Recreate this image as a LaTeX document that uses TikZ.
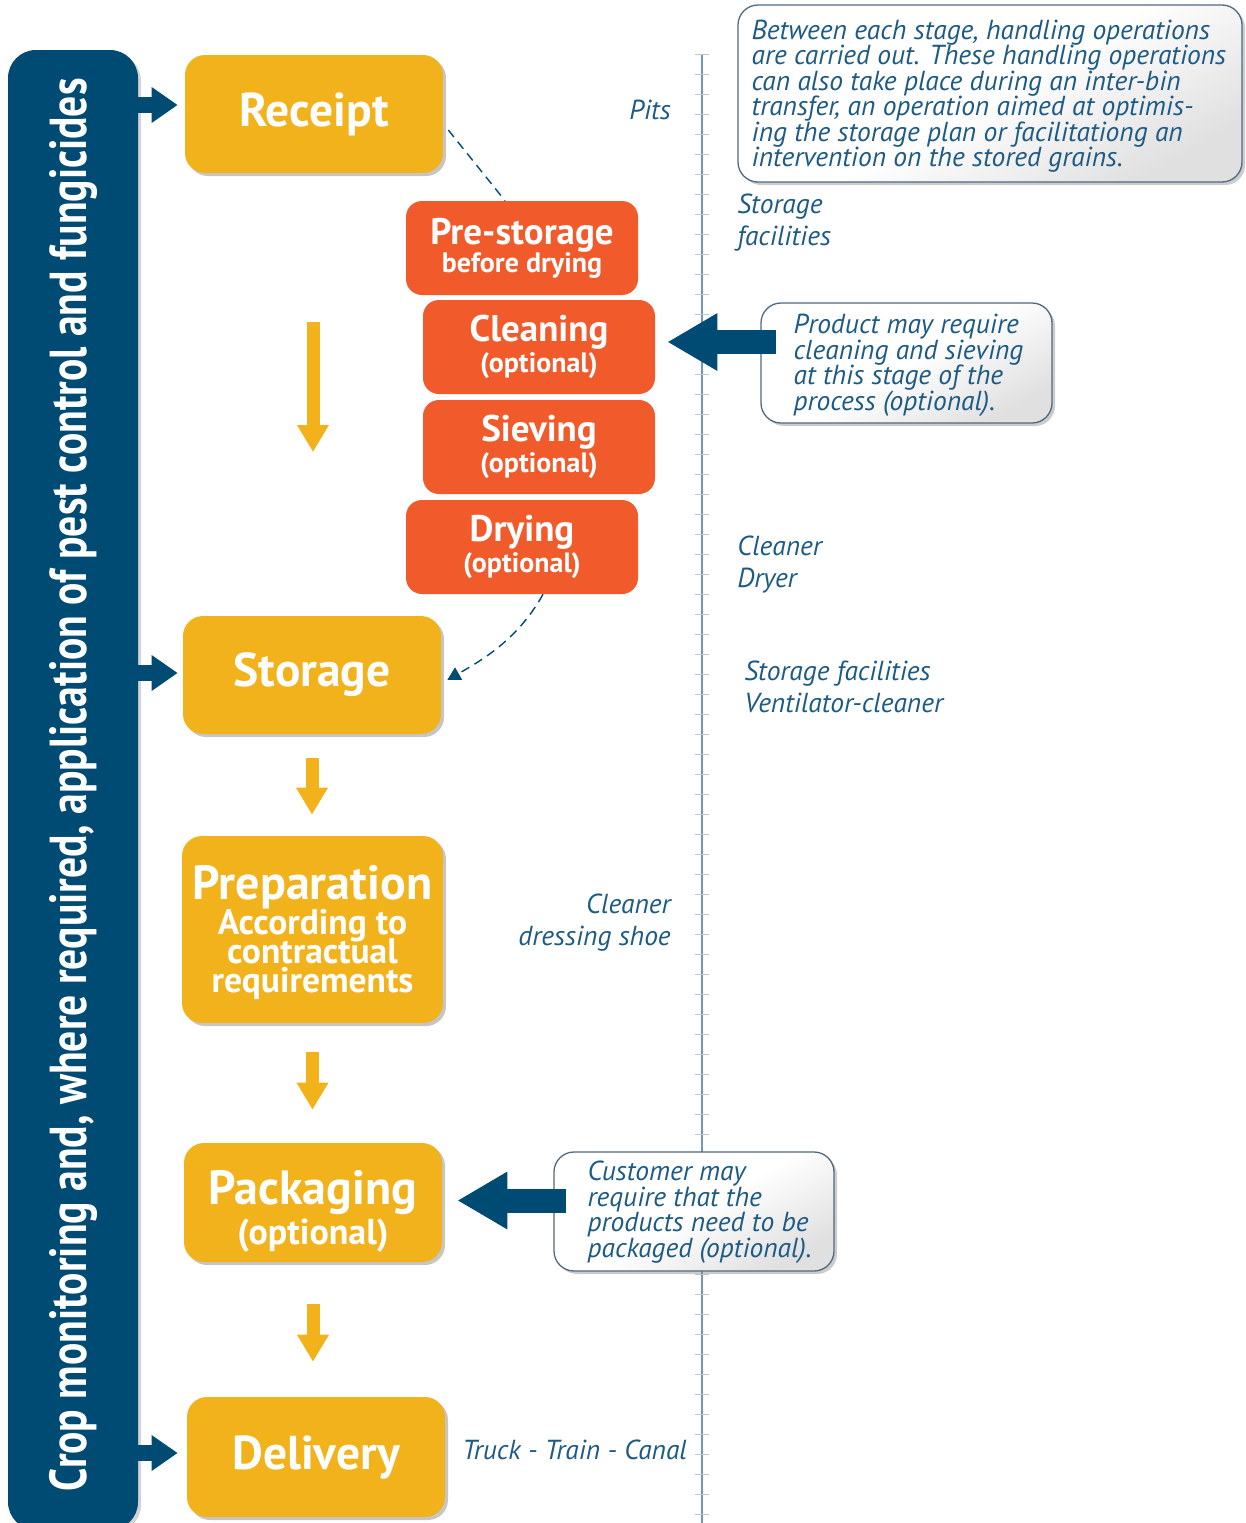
\documentclass[tikz,border=0pt]{standalone}
\usepackage{fontspec}
\setmainfont{PT Sans}
\newfontfamily\barfont[FakeStretch=0.8]{PT Sans}
\usetikzlibrary{arrows.meta,shadows}
\setlength{\lineskiplimit}{-30pt}

\definecolor{barblue}{HTML}{004B74}
\definecolor{stageyellow}{HTML}{F2B21B}
\definecolor{steporange}{HTML}{F15A2B}
\definecolor{labelblue}{HTML}{1D5B85}
\definecolor{rulerblue}{HTML}{7396B4}
\definecolor{tickblue}{HTML}{B4C7D8}

\begin{document}
\begin{tikzpicture}[x=1pt,y=-1pt,>=Triangle,semithick]
  \tikzstyle{stage}=[fill=stageyellow,text=white,rounded corners=20,minimum width=258,minimum height=118,
                     align=center,font=\bfseries\fontsize{47.5}{50}\selectfont,
                     drop shadow={shadow xshift=3pt,shadow yshift=-3pt,opacity=.45}]
  \tikzstyle{substage}=[fill=steporange,text=white,rounded corners=16,minimum width=232,minimum height=94,
                        align=center,font=\bfseries\fontsize{28}{31}\selectfont]
  \tikzstyle{note}=[draw=rulerblue!70!black,line width=1.3,rounded corners=20,top color=white,
                    bottom color=black!12,middle color=white,shading angle=30,
                    drop shadow={shadow xshift=3pt,shadow yshift=-3pt,opacity=.4}]
  \tikzstyle{notetext}=[anchor=west,align=left,inner sep=0,text=labelblue,
                        font=\itshape\fontsize{27.5}{25.5}\selectfont]
  \tikzstyle{info}=[inner sep=0,text=labelblue,font=\itshape\fontsize{27.5}{32}\selectfont]
  \tikzstyle{sidearrow}=[-{Triangle[length=26pt,width=34pt]},barblue,line width=16]
  \tikzstyle{downarrow}=[-{Triangle[length=27pt,width=30pt]},stageyellow,line width=13]
  \tikzstyle{bigarrow}=[-{Triangle[length=50pt,width=54pt]},barblue,line width=24]
  \tikzstyle{handling}=[barblue,line width=1.4,dash pattern=on 9pt off 6pt]

  \useasboundingbox (0,0) rectangle (1245,1523);

  % ruler
  \draw[rulerblue,line width=1.2] (702,54) -- (702,1523);
  \foreach \y in {54,74,...,1523}
    \draw[tickblue,line width=.8] (695,\y) -- (709,\y);

  % side bar
  \node[fill=barblue,rounded corners=28,minimum width=130,minimum height=1480,
        drop shadow={shadow xshift=3pt,shadow yshift=-3pt,opacity=.35}] (bar) at (73,790) {};
  \node[rotate=90,text=white,font=\barfont\bfseries\fontsize{52}{56}\selectfont] (bartext) at (73,785)
    {Crop monitoring and, where required, application of pest control and fungicides};

  % main stages
  \node[stage] (Receipt) at (314,114) {Receipt};
  \node[stage] (Storage) at (312,675) {Storage};
  \node[stage,minimum width=261,minimum height=187,font=\bfseries\fontsize{35.5}{29}\selectfont]
    (Prep) at (312.5,929.5)
    {{\fontsize{48}{50}\selectfont\rule{0pt}{41pt}Preparation}\\[6pt]According to\\contractual\\requirements};
  \node[stage,minimum height=119,font=\bfseries\fontsize{36}{40}\selectfont]
    (Packaging) at (313,1202.5) {{\fontsize{48}{50}\selectfont\rule{0pt}{52pt}Packaging}\\(optional)};
  \node[stage,minimum height=120] (Delivery) at (316,1457) {Delivery};

  % optional steps
  \node[substage,font=\bfseries\fontsize{28}{28}\selectfont] (Prestore) at (522,248)
    {{\fontsize{37}{40}\selectfont Pre-storage}\\before drying};
  \node[substage] (Cleaning) at (539,347) {{\fontsize{37}{40}\selectfont Cleaning}\\(optional)};
  \node[substage] (Sieving) at (539,447) {{\fontsize{37}{40}\selectfont Sieving}\\(optional)};
  \node[substage] (Drying) at (522,547) {{\fontsize{37}{40}\selectfont Drying}\\(optional)};

  % callouts
  \node[note,minimum width=504,minimum height=177] (Note1) at (990,93.5) {};
  \node[notetext] (Note1txt) at ([xshift=14pt,yshift=-2.5pt]Note1.west)
    {Between each stage, handling operations\\are carried out. These handling operations\\can also take place during an inter-bin\\transfer, an operation aimed at optimis-\\ing the storage plan or facilitationg an\\intervention on the stored grains.};
  \node[note,minimum width=291,minimum height=120] (Note2) at (906.5,363) {};
  \node[notetext] (Note2txt) at ([xshift=33pt,yshift=-2.5pt]Note2.west)
    {Product may require\\cleaning and sieving\\at this stage of the\\process (optional).};
  \node[note,minimum width=280,minimum height=119] (Note3) at (694,1211.5) {};
  \node[notetext] (Note3txt) at ([xshift=34pt,yshift=-0.5pt]Note3.west)
    {Customer may\\require that the\\products need to be\\packaged (optional).};

  % equipment
  \node[info,anchor=east] (pits) at (671,110) {Pits};
  \node[info,anchor=west,align=left] (silo) at (737,223) {Storage\\facilities};
  \node[info,anchor=west,align=left] (dryer) at (737,565) {Cleaner\\Dryer};
  \node[info,anchor=west,align=left] (ventil) at (744,687) {Storage facilities\\Ventilator-cleaner};
  \node[info,anchor=east,align=right] (dressing) at (671,923) {Cleaner\\dressing shoe};
  \node[info,anchor=west] (transport) at (462,1450) {Truck - Train - Canal};

  % flow
  \coordinate (flowtop) at (313,322);
  \coordinate (flowend) at (313,452);
  \draw[downarrow] (flowtop) -- (flowend);
  \draw[downarrow,shorten <=24,shorten >=21] (Storage.south) -- (Storage.south |- Prep.north);
  \draw[downarrow,shorten <=29,shorten >=33] (Prep.south) -- (Prep.south |- Packaging.north);
  \draw[downarrow,shorten <=42,shorten >=35] (Packaging.south) -- (Packaging.south |- Delivery.north);

  \path (bar.east |- Receipt.west) ++(0,-9) coordinate (r1)
        (bar.east |- Storage.west) ++(0,-2) coordinate (s1)
        (bar.east |- Delivery.west) ++(0,-4) coordinate (d1);
  \draw[sidearrow,shorten >=7] (r1) -- (r1 -| Receipt.west);
  \draw[sidearrow,shorten >=5] (s1) -- (s1 -| Storage.west);
  \draw[sidearrow,shorten >=9] (d1) -- (d1 -| Delivery.west);

  \draw[handling] ([xshift=5pt,yshift=-16pt]Receipt.east) -- ([xshift=-17pt]Prestore.north);
  \draw[handling,-{Triangle[length=13pt,width=14pt]}] ([xshift=21pt]Drying.south)
    .. controls +(-25,45) and +(35,-20) .. ([xshift=6pt,yshift=-5pt]Storage.east);

  \coordinate (cleanin) at ([yshift=5pt]Cleaning.east);
  \coordinate (packin) at ([yshift=2pt]Packaging.east);
  \draw[bigarrow,shorten >=12] ([xshift=16pt]Note2.west |- cleanin) -- (cleanin);
  \draw[bigarrow,shorten >=15] ([xshift=13pt]Note3.west |- packin) -- (packin);
\end{tikzpicture}
\end{document}
